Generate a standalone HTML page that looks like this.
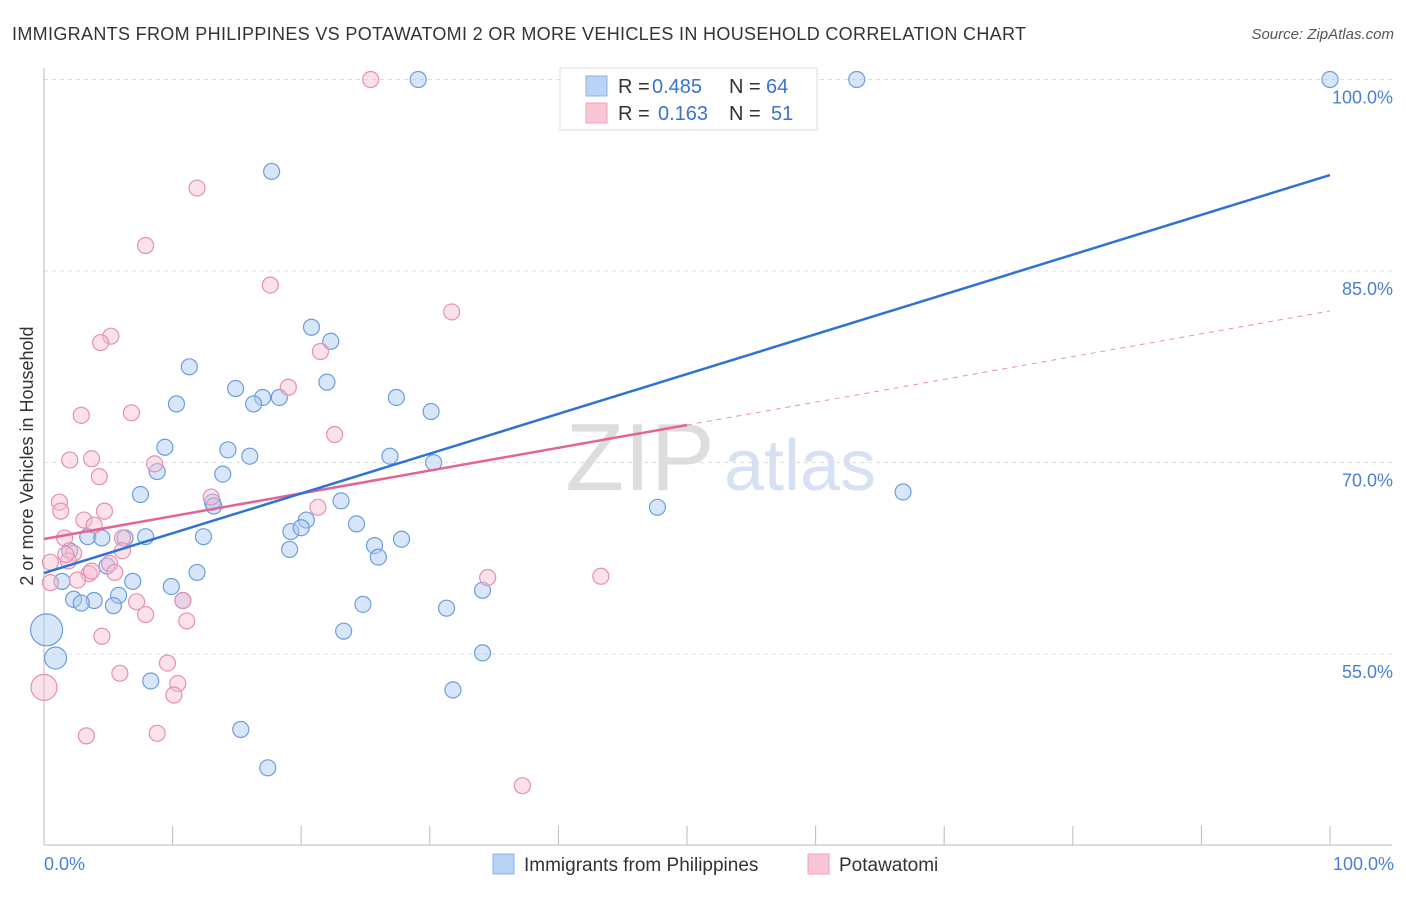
<!DOCTYPE html>
<html><head><meta charset="utf-8"><style>
body{margin:0;background:#fff;font-family:"Liberation Sans",sans-serif}
svg text{font-family:"Liberation Sans",sans-serif}
</style></head><body>
<svg id="chart" width="1406" height="892" viewBox="0 0 1406 892">
<text x="12" y="40" font-size="18" fill="#333" textLength="1014">IMMIGRANTS FROM PHILIPPINES VS POTAWATOMI 2 OR MORE VEHICLES IN HOUSEHOLD CORRELATION CHART</text>
<text x="1394" y="39" font-size="15" fill="#555" text-anchor="end" font-style="italic">Source: ZipAtlas.com</text>
<text x="640" y="490" font-size="96" fill="#ddd" text-anchor="middle" font-family="Liberation Serif">ZIP</text>
<text x="800" y="490" font-size="72" fill="#d6e2f4" text-anchor="middle">atlas</text>
<g id="grid"></g>
<g id="marks"></g>
<text transform="translate(33,456) rotate(-90)" font-size="18" fill="#333" text-anchor="middle">2 or more Vehicles in Household</text>
<text x="44" y="870" font-size="18" fill="#4a7fd8">0.0%</text>
<text x="1394" y="870" font-size="18" fill="#4a7fd8" text-anchor="end">100.0%</text>
<g>
<rect x="560" y="68" width="257" height="62" fill="#fff" stroke="#ddd"/>
<rect x="586" y="76" width="21" height="20" fill="#b9d3f5" stroke="#8db3e8"/>
<rect x="586" y="103" width="21" height="20" fill="#f9c6d6" stroke="#eea3bb"/>
<text x="618" y="93" font-size="20" fill="#333">R =</text>
<text x="652" y="93" font-size="20" fill="#3a72d0">0.485</text>
<text x="729" y="93" font-size="20" fill="#333">N =</text>
<text x="766" y="93" font-size="20" fill="#3a72d0">64</text>
<text x="618" y="120" font-size="20" fill="#333">R =</text>
<text x="658" y="120" font-size="20" fill="#3a72d0">0.163</text>
<text x="729" y="120" font-size="20" fill="#333">N =</text>
<text x="771" y="120" font-size="20" fill="#3a72d0">51</text>
</g>
<g>
<rect x="493" y="854" width="21" height="20" fill="#b9d3f5" stroke="#8db3e8"/>
<text x="524" y="871" font-size="19" fill="#333">Immigrants from Philippines</text>
<rect x="808" y="854" width="21" height="20" fill="#f9c6d6" stroke="#eea3bb"/>
<text x="839" y="871" font-size="19" fill="#333">Potawatomi</text>
</g>
</svg>
<script>
const yTicks=[55,70,85,100];
const xTickCount=10;
const blueX=[29.1,63.2,100,17.7,20.8,22.3,11.3,22,14.9,17,18.3,16.3,10.3,27.4,30.1,9.4,14.3,16,26.9,8.8,13.9,30.3,7.5,66.8,13.1,13.2,47.7,23.1,20.4,24.3,19.2,20,12.4,7.9,3.4,4.5,6.3,27.8,25.7,19.1,26,2,4.9,11.9,6.9,9.9,1.4,5.8,10.8,2.3,3.9,2.9,5.4,24.8,31.3,34.1,23.3,0.2,0.9,34.1,8.3,31.8,15.3,17.4];
const blueY=[100,100,100,92.8,80.6,79.5,77.5,76.3,75.8,75.1,75.1,74.6,74.6,75.1,74,71.2,71,70.5,70.5,69.3,69.1,70,67.5,67.7,66.9,66.6,66.5,67,65.5,65.2,64.6,64.9,64.2,64.2,64.2,64.1,64.1,64,63.5,63.2,62.6,63.1,61.9,61.4,60.7,60.3,60.7,59.6,59.2,59.3,59.2,59,58.8,58.9,58.6,60,56.8,56.9,54.7,55.1,52.9,52.2,49.1,46.1];
const blueR=[8,8,8,8,8,8,8,8,8,8,8,8,8,8,8,8,8,8,8,8,8,8,8,8,8,8,8,8,8,8,8,8,8,8,8,8,8,8,8,8,8,8,8,8,8,8,8,8,8,8,8,8,8,8,8,8,8,16,11,8,8,8,8,8];
const pinkX=[25.4,11.9,7.9,17.6,31.7,5.2,4.4,21.5,19,6.8,2.9,22.6,2,3.7,8.6,4.3,13,1.2,1.3,4.7,3.1,3.9,21.3,1.6,6.1,2.3,1.9,0.5,6.1,5.1,5.5,3.5,2.6,0.5,34.5,43.3,7.2,7.9,11.1,4.5,9.6,5.9,10.4,10.1,0,3.3,8.8,37.2,1.7,3.7,10.8];
const pinkY=[100,91.5,87,83.9,81.8,79.9,79.4,78.7,75.9,73.9,73.7,72.2,70.2,70.3,69.9,68.9,67.3,66.9,66.2,66.2,65.5,65.1,66.5,64.1,64.1,62.9,62.3,62.2,63.1,62.1,61.4,61.3,60.8,60.6,61,61.1,59.1,58.1,57.6,56.4,54.3,53.5,52.7,51.8,52.4,48.6,48.8,44.7,62.8,61.5,59.2];
const pinkR=[8,8,8,8,8,8,8,8,8,8,8,8,8,8,8,8,8,8,8,8,8,8,8,8,8,8,8,8,8,8,8,8,8,8,8,8,8,8,8,8,8,8,8,8,13,8,8,8,8,8,8];
const blueTrend=[61.35,92.52];
const pinkTrend=[64.02,81.87];
const pinkSolidEnd=50;
const NS='http://www.w3.org/2000/svg';
const X=v=>44+v*12.86, Y=v=>79.5+(100-v)*12.77;
const grid=document.getElementById('grid'), marks=document.getElementById('marks');
function mk(tag,attrs,parent){const e=document.createElementNS(NS,tag);for(const k in attrs)e.setAttribute(k,attrs[k]);parent.appendChild(e);return e;}
yTicks.forEach(t=>{
 const l=mk('line',{x1:44,x2:1392,y1:Y(t),y2:Y(t),stroke:'#ddd','stroke-dasharray':'4,4'},grid);
 
 
 const tx=mk('text',{x:1393,y:Y(t)+24,'font-size':18,fill:'#4a7fd8','text-anchor':'end'},grid);
 tx.textContent=t.toFixed(1)+'%';
 
 
});
const ax=mk('line',{x1:44,x2:44,y1:68,y2:845,stroke:'#bbb'},grid);


const bx=mk('line',{x1:44,x2:1392,y1:845,y2:845,stroke:'#bbb'},grid);


for(let i=0;i<=xTickCount;i++){const t=mk('line',{x1:X(i*10),x2:X(i*10),y1:826,y2:845,stroke:'#bbb'},grid);
 
 }
function dots(xs,ys,rs,fill,stroke,name){xs.forEach((x,i)=>{const c=mk('circle',{cx:X(x),cy:Y(ys[i]),r:rs[i],fill:fill,stroke:stroke,'stroke-width':1.2,'fill-opacity':0.45},marks);
 
 });}
dots(blueX,blueY,blueR,'#a9c8f2','#6c9de0','philippines-point');
dots(pinkX,pinkY,pinkR,'#f7bcd0','#e88fb0','potawatomi-point');
const pm=pinkTrend[0]+(pinkTrend[1]-pinkTrend[0])*pinkSolidEnd/100;
const pd=mk('line',{x1:X(pinkSolidEnd),y1:Y(pm),x2:X(100),y2:Y(pinkTrend[1]),stroke:'#e88fb0','stroke-dasharray':'5,5','stroke-width':1},marks);


const ps=mk('line',{x1:X(0),y1:Y(pinkTrend[0]),x2:X(pinkSolidEnd),y2:Y(pm),stroke:'#e5648f','stroke-width':2.5},marks);


const bl=mk('line',{x1:X(0),y1:Y(blueTrend[0]),x2:X(100),y2:Y(blueTrend[1]),stroke:'#2f72d6','stroke-width':2.5},marks);


</script>
</body></html>
